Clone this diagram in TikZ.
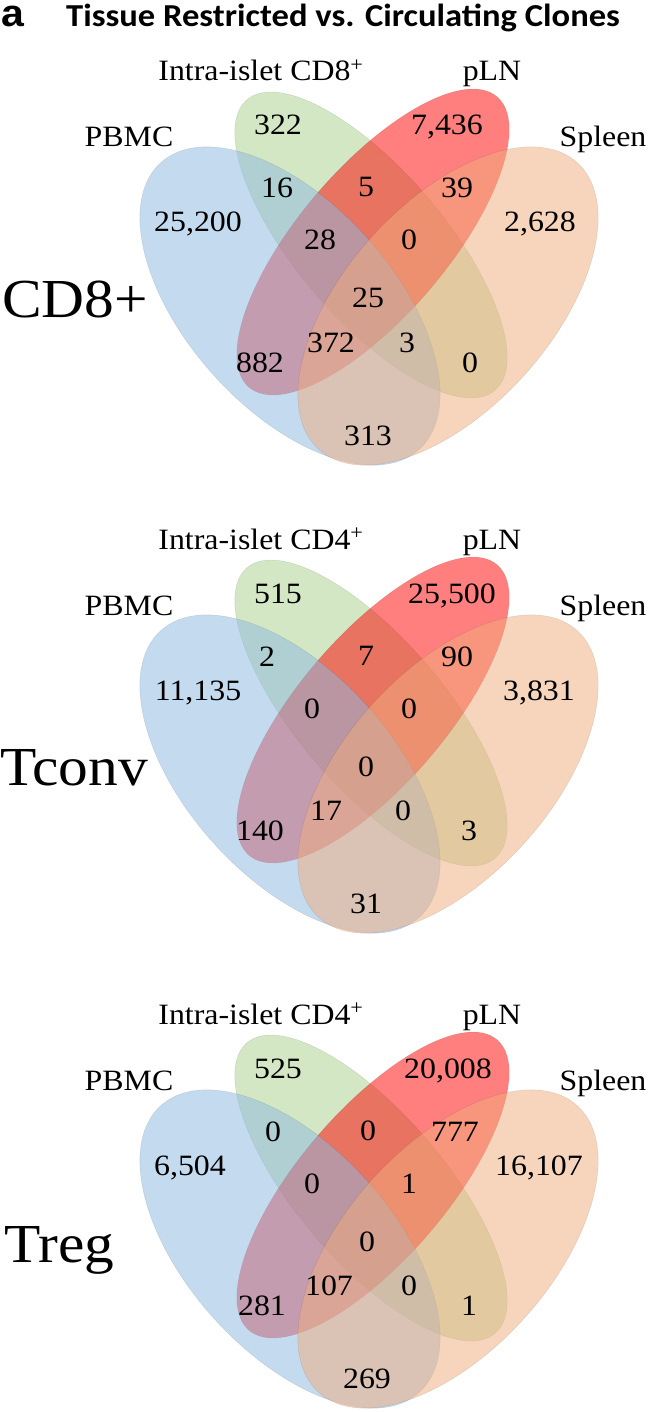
\documentclass[tikz,border=0pt]{standalone}
\usepackage{fontspec}
\usepackage{graphicx}
\setmainfont{Liberation Serif}
\newfontfamily\titlefont{Carlito}
\newfontfamily\afont{Liberation Sans}
\definecolor{cBlue}{RGB}{139,185,225}
\definecolor{cGreen}{RGB}{171,209,139}
\definecolor{cRed}{RGB}{255,0,0}
\definecolor{cOrange}{RGB}{241,173,125}
\newcommand{\sx}[1]{\scalebox{1.08}[1]{#1}}
\tikzset{
  vennset/.style={fill opacity=0.5, draw=black, draw opacity=0.12, line width=0.4pt},
  num/.style={anchor=base, inner sep=0pt, font=\fontsize{29.5}{30}\selectfont},
  setlab/.style={anchor=base, inner sep=0pt, font=\fontsize{29.5}{30}\selectfont},
  biglab/.style={anchor=base west, inner sep=0pt, font=\fontsize{55}{56}\selectfont},
}
\newcommand{\fourellipses}{%
  \begin{scope}[shift={(371,245)}, rotate=-49.5]
    \path[vennset, fill=cGreen] (0,0) ellipse [x radius=191, y radius=74];
  \end{scope}
  \begin{scope}[shift={(373,242)}, rotate=49.5]
    \path[vennset, fill=cRed] (0,0) ellipse [x radius=191, y radius=74];
  \end{scope}
  \begin{scope}[shift={(290,306)}, rotate=-48]
    \path[vennset, fill=cBlue] (0,0) ellipse [x radius=193, y radius=103];
  \end{scope}
  \begin{scope}[shift={(448,306)}, rotate=48]
    \path[vennset, fill=cOrange] (0,0) ellipse [x radius=193, y radius=103];
  \end{scope}%
}
\begin{document}
\begin{tikzpicture}[x=1pt, y=-1pt]
\fill[white] (0,0) rectangle (649,1412);
\useasboundingbox (0,0) rectangle (649,1412);

\node[anchor=base west, inner sep=0pt] (panel) at (1,27) {\sx{\afont\bfseries\fontsize{38}{38}\selectfont a}};
\node[anchor=base west, inner sep=0pt] (title) at (66,27) {\sx{\titlefont\bfseries\fontsize{32}{32}\selectfont Tissue Restricted vs. Circulating Clones}};

% ---------------- CD8+ ----------------
\begin{scope}[shift={(0,0)}]
\fourellipses
\node[setlab] (aIsl) at (261,81) {\sx{Intra-islet CD8\textsuperscript{+}}};
\node[setlab] (aPln) at (492,81) {\sx{pLN}};
\node[setlab] (aPbmc) at (129,147) {\sx{PBMC}};
\node[setlab] (aSpl) at (603,147) {\sx{Spleen}};
\node[biglab] (aBig) at (2,317) {\sx{CD8+}};
\node[num] (a01) at (278,135) {\sx{322}};
\node[num] (a02) at (447,135) {\sx{7,436}};
\node[num] (a03) at (277,198) {\sx{16}};
\node[num] (a04) at (366,197) {\sx{5}};
\node[num] (a05) at (457,198) {\sx{39}};
\node[num] (a06) at (198,232) {\sx{25,200}};
\node[num] (a07) at (540,232) {\sx{2,628}};
\node[num] (a08) at (320,250) {\sx{28}};
\node[num] (a09) at (409,250) {\sx{0}};
\node[num] (a10) at (368,308) {\sx{25}};
\node[num] (a11) at (331,352) {\sx{372}};
\node[num] (a12) at (407,352) {\sx{3}};
\node[num] (a13) at (260,372) {\sx{882}};
\node[num] (a14) at (470,372) {\sx{0}};
\node[num] (a15) at (368,445) {\sx{313}};
\end{scope}

% ---------------- Tconv ----------------
\begin{scope}[shift={(0,468)}]
\fourellipses
\node[setlab] (bIsl) at (261,81) {\sx{Intra-islet CD4\textsuperscript{+}}};
\node[setlab] (bPln) at (492,81) {\sx{pLN}};
\node[setlab] (bPbmc) at (129,147) {\sx{PBMC}};
\node[setlab] (bSpl) at (603,147) {\sx{Spleen}};
\node[biglab] (bBig) at (0,317) {\sx{Tconv}};
\node[num] (b01) at (278,135) {\sx{515}};
\node[num] (b02) at (452,135) {\sx{25,500}};
\node[num] (b03) at (267,198) {\sx{2}};
\node[num] (b04) at (366,197) {\sx{7}};
\node[num] (b05) at (457,198) {\sx{90}};
\node[num] (b06) at (198,232) {\sx{11,135}};
\node[num] (b07) at (539,232) {\sx{3,831}};
\node[num] (b08) at (312,250) {\sx{0}};
\node[num] (b09) at (409,250) {\sx{0}};
\node[num] (b10) at (366,308) {\sx{0}};
\node[num] (b11) at (326,352) {\sx{17}};
\node[num] (b12) at (403,352) {\sx{0}};
\node[num] (b13) at (260,372) {\sx{140}};
\node[num] (b14) at (469,372) {\sx{3}};
\node[num] (b15) at (366,445) {\sx{31}};
\end{scope}

% ---------------- Treg ----------------
\begin{scope}[shift={(0,943)}]
\fourellipses
\node[setlab] (cIsl) at (261,81) {\sx{Intra-islet CD4\textsuperscript{+}}};
\node[setlab] (cPln) at (492,81) {\sx{pLN}};
\node[setlab] (cPbmc) at (129,147) {\sx{PBMC}};
\node[setlab] (cSpl) at (603,147) {\sx{Spleen}};
\node[biglab] (cBig) at (4,319) {\sx{Treg}};
\node[num] (c01) at (278,135) {\sx{525}};
\node[num] (c02) at (448,135) {\sx{20,008}};
\node[num] (c03) at (273,198) {\sx{0}};
\node[num] (c04) at (368,197) {\sx{0}};
\node[num] (c05) at (455,198) {\sx{777}};
\node[num] (c06) at (190,232) {\sx{6,504}};
\node[num] (c07) at (539,232) {\sx{16,107}};
\node[num] (c08) at (312,250) {\sx{0}};
\node[num] (c09) at (409,250) {\sx{1}};
\node[num] (c10) at (367,308) {\sx{0}};
\node[num] (c11) at (329,352) {\sx{107}};
\node[num] (c12) at (409,352) {\sx{0}};
\node[num] (c13) at (262,372) {\sx{281}};
\node[num] (c14) at (469,372) {\sx{1}};
\node[num] (c15) at (367,445) {\sx{269}};
\end{scope}
\end{tikzpicture}
\end{document}
